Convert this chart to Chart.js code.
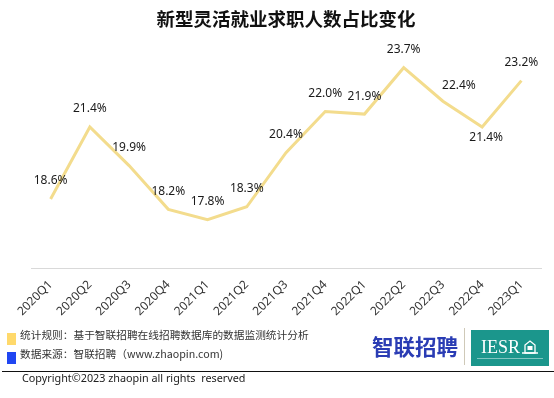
<!DOCTYPE html>
<html>
<head>
<meta charset="utf-8">
<script src="https://cdn.jsdelivr.net/npm/chart.js@4.4.0/dist/chart.umd.min.js"></script>
<style>
  body { margin: 0; background: #fff; }
  #wrap { position: relative; width: 554px; height: 398px; overflow: hidden; font-family: "Noto Sans CJK SC", "Noto Sans", sans-serif; }
  #chart { position: absolute; left: 0; top: 0; }
  .title { position: absolute; left: 0; top: 7px; width: 572px; text-align: center; font-size: 18.5px; line-height: 22px; font-weight: bold; color: #111; }
  .note { position: absolute; left: 20px; font-size: 10.7px; line-height: 14px; color: #333; white-space: nowrap; }
  .swatch { position: absolute; left: 7px; width: 9px; height: 12px; }
  .rule { position: absolute; left: 2px; top: 371px; width: 552px; height: 1px; background: #111; }
  .copy { position: absolute; left: 22px; top: 371px; font-family: "Noto Sans", sans-serif; font-size: 10.8px; line-height: 14px; color: #222; white-space: nowrap; }
  .logo { position: absolute; left: 372px; top: 333px; font-size: 21.5px; line-height: 26px; font-weight: bold; color: #2a3cb4; }
  .sep { position: absolute; left: 464px; top: 328px; width: 1px; height: 37px; background: #cfc9b8; }
  .iesr { position: absolute; left: 471px; top: 330px; width: 78px; height: 36px; background: #1b968c; }
  .iesr span { position: absolute; left: 10px; top: 8px; font-family: "Liberation Serif", serif; font-size: 18px; line-height: 18px; color: #fff; }
  .iesr svg { position: absolute; left: 51px; top: 9px; }
  .iesr i { position: absolute; left: 6px; top: 28px; width: 66px; height: 1px; background: rgba(255,255,255,0.45); }
</style>
</head>
<body>
<div id="wrap">
  <canvas id="chart" width="554" height="398"></canvas>
  <div class="title">新型灵活就业求职人数占比变化</div>

  <div class="swatch" style="top:333px;background:#ffd96b;"></div>
  <div class="note" style="top:328px;">统计规则：基于智联招聘在线招聘数据库的数据监测统计分析</div>
  <div class="swatch" style="top:352px;background:#2046f2;"></div>
  <div class="note" style="top:347px;">数据来源：智联招聘（www.zhaopin.com)</div>

  <div class="logo">智联招聘</div>
  <div class="sep"></div>
  <div class="iesr">
    <span>IESR</span>
    <svg width="16" height="16" viewBox="0 0 16 16">
      <path d="M3 14 L3 6 L8 2 L13 6 L13 14 Z" fill="none" stroke="#fff" stroke-width="1.3"/>
      <rect x="5.5" y="7" width="5" height="4" fill="#fff"/>
      <path d="M0 14 L16 14" stroke="#fff" stroke-width="1.5"/>
    </svg>
    <i></i>
  </div>

  <div class="rule"></div>
  <div class="copy">Copyright©2023 zhaopin all rights&nbsp; reserved</div>
</div>

<script>
const quarters = ['2020Q1', '2020Q2', '2020Q3', '2020Q4', '2021Q1', '2021Q2', '2021Q3',
                  '2021Q4', '2022Q1', '2022Q2', '2022Q3', '2022Q4', '2023Q1'];
const shares = [18.6, 21.4, 19.9, 18.2, 17.8, 18.3, 20.4, 22.0, 21.9, 23.7, 22.4, 21.4, 23.2];

// draws the value labels over each point
const pointLabels = {
  id: 'pointLabels',
  afterDatasetsDraw(chart, args, opts) {
    const ctx = chart.ctx;
    const meta = chart.getDatasetMeta(0);
    ctx.save();
    ctx.font = opts.font;
    ctx.fillStyle = opts.color;
    ctx.textAlign = 'center';
    ctx.textBaseline = 'middle';
    meta.data.forEach((pt, i) => {
      const shift = opts.shift[i] || [0, -18];
      ctx.fillText(shares[i].toFixed(1) + '%', pt.x + shift[0], pt.y + shift[1]);
    });
    ctx.restore();
  }
};

new Chart(document.getElementById('chart').getContext('2d'), {
  type: 'line',
  data: {
    labels: quarters,
    datasets: [{
      data: shares,
      borderColor: '#f3dc8d',
      borderWidth: 3,
      pointRadius: 0,
      tension: 0,
      fill: false
    }]
  },
  options: {
    responsive: false,
    animation: false,
    devicePixelRatio: 1,
    layout: { padding: { left: 31, right: 13, top: 60, bottom: 0 } },
    plugins: {
      legend: { display: false },
      tooltip: { enabled: false },
      pointLabels: {
        font: '12px "Noto Sans", sans-serif',
        color: '#1a1a1a',
        shift: { 10: [16, -16], 11: [4, 11] }
      }
    },
    scales: {
      x: {
        offset: true,
        grid: { display: false, drawTicks: false },
        border: { display: true, color: '#d9d9d9', width: 1 },
        ticks: {
          autoSkip: false,
          maxRotation: 45,
          minRotation: 45,
          padding: 9,
          color: '#333',
          font: { family: '"Noto Sans", sans-serif', size: 12 }
        },
        afterFit(scale) { scale.height = 129.4; }
      },
      y: {
        display: false,
        min: 15.9,
        max: 24
      }
    }
  },
  plugins: [pointLabels]
});
</script>
</body>
</html>
